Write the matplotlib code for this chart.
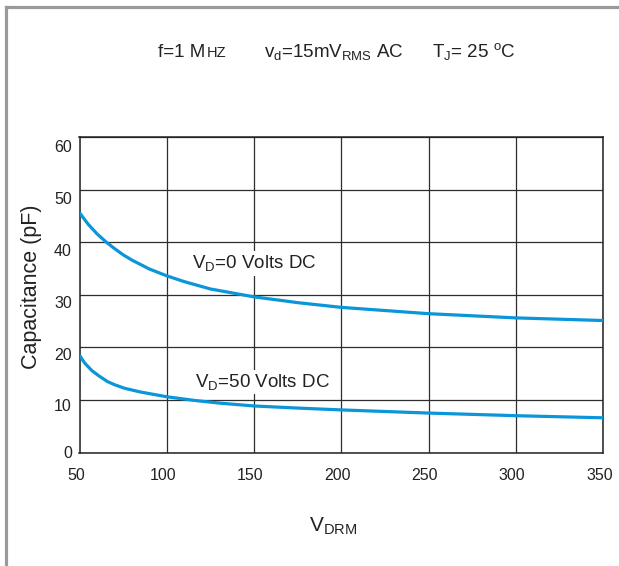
import matplotlib
matplotlib.use("Agg")
import matplotlib.pyplot as plt
from matplotlib.lines import Line2D
from matplotlib.transforms import ScaledTranslation

# ---- data ----
x_top = [50, 55, 60, 65, 70, 75, 80, 90, 100, 110, 125, 150, 175, 200, 250, 300, 350]
c_top = [45.6, 43.4, 41.6, 40.1, 38.8, 37.6, 36.6, 34.9, 33.6, 32.5, 31.1, 29.6, 28.5,
         27.6, 26.4, 25.6, 25.1]
x_bot = [50, 53, 57, 61, 66, 70, 76, 85, 100, 116, 130, 150, 175, 200, 250, 300, 350]
c_bot = [18.5, 17.0, 15.6, 14.6, 13.5, 12.9, 12.2, 11.5, 10.6, 9.9, 9.4, 8.85, 8.45,
         8.1, 7.5, 7.0, 6.6]
x_ticks = [50, 100, 150, 200, 250, 300, 350]
y_ticks = [0, 10, 20, 30, 40, 50, 60]
label_top = r"V$_\mathregular{D}$=0 Volts DC"
label_bot = r"V$_\mathregular{D}$=50 Volts DC"

plt.rcParams['font.family'] = ['Liberation Sans', 'DejaVu Sans']
plt.rcParams['mathtext.fontset'] = 'custom'
plt.rcParams['mathtext.rm'] = 'Liberation Sans'
plt.rcParams['mathtext.it'] = 'Liberation Sans:italic'
plt.rcParams['mathtext.bf'] = 'Liberation Sans:bold'

W, H = 619, 566
fig = plt.figure(figsize=(W / 100, H / 100), dpi=100)
fig.patch.set_facecolor('white')

def fx(px):
    return px / W

def fy(py):
    return 1 - py / H

# outer gray frame (top and left)
fig.add_artist(Line2D([fx(5.5), fx(619)], [fy(6.5), fy(6.5)], color='#9a9a9a', lw=2.3,
                      transform=fig.transFigure))
fig.add_artist(Line2D([fx(5.5), fx(5.5)], [fy(6.5), fy(566)], color='#9a9a9a', lw=2.3,
                      transform=fig.transFigure))

left, right, top, bottom = 79.5, 603, 137, 452.5
ax = fig.add_axes([fx(left), fy(bottom), (right - left) / W, (bottom - top) / H])

blue = '#0a96d8'
ax.plot(x_top, c_top, color=blue, lw=2.3, solid_capstyle='butt', solid_joinstyle='round',
        zorder=3)
ax.plot(x_bot, c_bot, color=blue, lw=2.3, solid_capstyle='butt', solid_joinstyle='round',
        zorder=3)

ax.set_xlim(50, 350)
ax.set_ylim(0, 60)
ax.set_xticks(x_ticks)
ax.set_yticks(y_ticks)
ax.set_xticklabels([str(v) for v in x_ticks])
ax.set_yticklabels([str(v) for v in y_ticks])
ax.grid(True, color='#2e2e2e', lw=0.9)
ax.set_axisbelow(True)
for s in ax.spines.values():
    s.set_color('#222222')
    s.set_linewidth(1.1)
ax.tick_params(axis='both', length=0, labelsize=11.5, colors='#222222')
ax.tick_params(axis='x', pad=11.0)
ax.tick_params(axis='y', pad=5.5)

# small offsets of the tick labels as in the reference
for t in ax.xaxis.get_major_ticks():
    t.label1.set_transform(t.label1.get_transform() +
                           ScaledTranslation(-0.035, 0, fig.dpi_scale_trans))
y_dy = [0, 5, 7, 7, 8, 8, 8.5]
for t, dy in zip(ax.yaxis.get_major_ticks(), y_dy):
    t.label1.set_transform(t.label1.get_transform() +
                           ScaledTranslation(0, -dy / 100, fig.dpi_scale_trans))

ax.set_ylabel('Capacitance (pF)', fontsize=15.5, color='#222222')
ax.yaxis.set_label_coords((41.5 - left) / (right - left), (bottom - 287) / (bottom - top))
ax.set_xlabel(r"V$_\mathregular{DRM}$", fontsize=15, color='#222222', va='baseline')
ax.xaxis.set_label_coords((333 - left) / (right - left), (bottom - 532) / (bottom - top))

bbox = dict(facecolor='white', edgecolor='none', pad=1.5)
ax.text(114.4, 35.0, label_top, fontsize=13.5, color='#222222', va='baseline', ha='left',
        bbox=bbox, zorder=4)
ax.text(116.3, 12.5, label_bot, fontsize=13.5, color='#222222', va='baseline', ha='left',
        bbox=bbox, zorder=4)

# header conditions
hc = '#222222'
fig.text(fx(158), fy(57), 'f=1 M', fontsize=13.5, color=hc, ha='left', va='baseline')
fig.text(fx(207), fy(57), 'HZ', fontsize=10.5, color=hc, ha='left', va='baseline')
fig.text(fx(264), fy(57), r"v$_\mathregular{d}$=15mV$_\mathregular{RMS}$ AC", fontsize=13.5,
         color=hc, ha='left', va='baseline')
fig.text(fx(431.5), fy(57), r"T$_\mathregular{J}$= 25 $^\mathregular{o}$C", fontsize=13.5,
         color=hc, ha='left', va='baseline')

fig.savefig('out.png', dpi=100, facecolor='white')
